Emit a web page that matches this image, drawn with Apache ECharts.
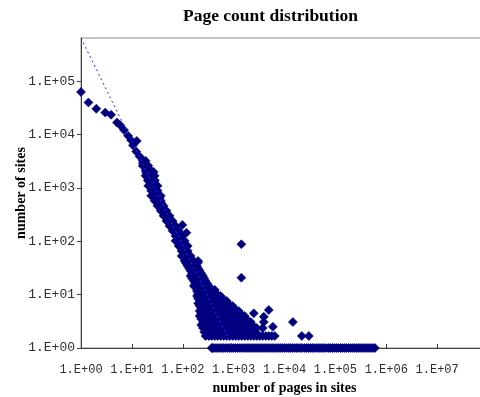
<!DOCTYPE html>
<html>
<head>
<meta charset="utf-8">
<script src="https://cdn.jsdelivr.net/npm/echarts@6/dist/echarts.min.js"></script>
<style>
html,body{margin:0;padding:0;background:#fff;}
#chart{width:480px;height:397px;}
</style>
</head>
<body>
<div id="chart"></div>
<script>
// ---- data ----
const titleText = 'Page count distribution';
const xAxisName = 'number of pages in sites';
const yAxisName = 'number of sites';

// trendline (power fit) end points
const trendX = [1, 977];
const trendY = [646000, 1];

// individual scattered points [pages, sites]
const loosePoints = [
  [1,63000],[1.4,40000],[2,30500],[3,25800],[3.9,23500],[5.1,16800],[5.9,15000],
  [7,12200],[8.4,9500],[9.7,7800],[12.5,7600],[10.5,6300],[12.2,4800],[14.2,3900],
  [16.5,2900],[19.2,1900],[26.8,2000],[20.7,1400],[28,1400],[24,1050],[30.4,920],
  [26,750],[35,640],[32.5,600],[37.8,520],[44,390],[51,290],[64,218],[75,163],
  [98,203],[118,145],[87,114],[94,80],[109,60],[126,42],[200,40],[159,31],[200,22],
  [250,16.4],[425,12.3],[290,11.4],[340,9.2],[575,8.9],[1420,88],[1420,20.8],
  [5900,2.5],[3920,3.86],[3920,3.07],[2490,4.47],[4910,5.16]
];

// page counts on the bottom row (count = 1), a dense solid bar
const singleRowPages = [370,390,410,450,490,540,590,640,700,770,840,920,1000,1100,1200,1320,
  1450,1600,1750,1920,2100,2300,2500,2750,3000,3300,3600,3950,4300,4750,5200,5700,6200,6850,
  7500,8200,9000,9900,10800,11900,13000,14200,15500,17000,18500,20300,22000,24500,27000,
  29500,32000,35000,38000,42000,46000,50000,55000,60000,66000,73000,80000,87000,95000,
  105000,115000,126000,138000,151000,165000,182000,200000,220000,240000,265000,290000,
  320000,350000,385000,420000,460000,500000,550000,600000];

// dense band: site counts (rows) and the page counts seen on each row
const rowSites = [1.68, 2.37, 3.07, 3.98, 4.94, 6.14, 7.62, 9.45, 11.7, 14.6, 18.1,
  22.4, 27.9, 34.5, 42.9, 53.2, 66.1, 82, 102, 126, 157, 194, 241, 300, 372, 462,
  573, 711, 883, 1095, 1360, 1690, 2090, 2600, 3220];
const rowPages = [
  [280,325,370,425,485,555,640,730,840,960,1100,1260,1440,1650,1900,2170,2490,2850,3260,3730,4290,4910,5620,6440,21900,30100],
  [250,280,325,370,425,485,555,640,730,840,960,1100,1260,1440,1650,1900,2170,2490,2850,3730],
  [250,280,325,370,425,485,555,640,730,840,960,1100,1260,1440,1650,1900,2170,14600],
  [215,250,280,325,370,425,485,555,640,730,840,960,1100,1260,1440,1650],
  [215,250,280,325,370,425,485,555,640,730,840,960,1100,1260],
  [215,250,280,325,370,425,485,555,640,730,840,960],
  [215,250,280,325,370,425,485,555,640,730],
  [190,215,250,280,325,370,425,485,555],
  [190,215,250,280,325,370,425],
  [165,190,215,250,280,325],
  [165,190,215,250,280],
  [143,165,190,215,250],
  [143,165,190,215],
  [125,143,165,190],
  [109,125,143,165,200],
  [95,109,125,143],
  [95,109,125],
  [83,95,109,125],
  [72,83,95,109],
  [72,83,95],
  [63,72,83],
  [55,63,72],
  [48,55,63],
  [42,48,55],
  [37,42,48],
  [32,37,42],
  [28,32,37],
  [24,28,32,37],
  [24,28,32],
  [21,24,28,32],
  [21,24,28],
  [18.6,21,24,28],
  [18.6,21,24],
  [16.3,18.6,21],
  [16.3,18.6]
];

// in-between rows of the same dense band (the blob is solid in the picture)
const midSites = [2.0, 2.7, 3.5, 4.44, 5.51, 6.84, 8.49, 10.5, 13.1, 16.2, 20.1, 25.0, 31.0, 38.5];
const midPages = [
  [264,302,346,397,454,521,597,684,783,897,1028,1178,1349,1545,1771,2028,2323,2662],
  [231,264,302,346,397,454,521,597,684,783,897,1028,1178,1349,1545,1771,2028,2323],
  [231,264,302,346,397,454,521,597,684,783,897,1028,1178,1349,1545,1771],
  [231,264,302,346,397,454,521,597,684,783,897,1028,1178,1349],
  [231,264,302,346,397,454,521,597,684,783,897,1028],
  [201,231,264,302,346,397,454,521,597,684,783],
  [201,231,264,302,346,397,454,521,597],
  [201,231,264,302,346,397,454],
  [201,231,264,302,347],
  [175,201,231,264,302],
  [153,175,201,231,264],
  [153,175,201,231],
  [134,153,175,201],
  [117,134,153,175]
];

// axis ranges
const xMin = 1, xMax = 1e8;
const yMin = 1, yMax = 646000;
const yTickValues = [1, 10, 100, 1000, 10000, 100000];

// ---- build ----
const scatterData = loosePoints.slice();
singleRowPages.forEach(p => scatterData.push([p, 1]));
rowSites.forEach((s, i) => rowPages[i].forEach(p => scatterData.push([p, s])));
midSites.forEach((s, i) => midPages[i].forEach(p => scatterData.push([p, s])));
const trendData = trendX.map((x, i) => [x, trendY[i]]);

function expLabel(v, hideAbove) {
  const l = Math.log10(v);
  const r = Math.round(l);
  if (Math.abs(l - r) > 1e-6 || r > hideAbove) return '';
  return '1.E+' + String(r).padStart(2, '0');
}

const chart = echarts.init(document.getElementById('chart'), null, {renderer: 'canvas'});
chart.setOption({
  animation: false,
  backgroundColor: '#fff',
  title: {
    text: titleText,
    left: 178, top: 2,
    textStyle: {fontFamily: 'Liberation Serif', fontWeight: 'bold', fontSize: 17.5, color: '#000'}
  },
  grid: {
    left: 81, top: 38, bottom: 49, right: -8,
    outerBoundsMode: 'none',
    containLabel: false,
    show: true, borderColor: '#8a8a8a', borderWidth: 1, backgroundColor: 'transparent'
  },
  xAxis: {
    type: 'log', logBase: 10, min: xMin, max: xMax,
    name: xAxisName, nameLocation: 'middle', nameGap: 33, nameMoveOverlap: false,
    nameTextStyle: {fontFamily: 'Liberation Serif', fontWeight: 'bold', fontSize: 14, color: '#000'},
    axisLine: {lineStyle: {color: '#404040', width: 1}},
    axisTick: {inside: true, length: 4, lineStyle: {color: '#404040'}},
    axisLabel: {
      margin: 16, fontFamily: 'Liberation Mono', fontSize: 12, color: '#303030',
      formatter: v => expLabel(v, 7)
    },
    splitLine: {show: false}
  },
  yAxis: {
    type: 'log', logBase: 10, min: yMin, max: yMax,
    name: yAxisName, nameLocation: 'middle', nameGap: 53, nameRotate: 90, nameMoveOverlap: false,
    nameTextStyle: {fontFamily: 'Liberation Serif', fontWeight: 'bold', fontSize: 14, color: '#000'},
    axisLine: {lineStyle: {color: '#404040', width: 1}},
    axisTick: {inside: false, length: 4, lineStyle: {color: '#404040'}, customValues: yTickValues},
    axisLabel: {
      margin: 6, fontFamily: 'Liberation Mono', fontSize: 13, color: '#303030',
      customValues: yTickValues,
      formatter: v => expLabel(v, 5)
    },
    splitLine: {show: false}
  },
  series: [
    {
      type: 'scatter',
      data: scatterData,
      symbol: 'diamond',
      symbolSize: 9,
      large: false,
      itemStyle: {color: '#000080', opacity: 1, borderWidth: 0.6, borderColor: '#000080'},
      emphasis: {disabled: true},
      z: 2
    },
    {
      type: 'line',
      data: trendData,
      symbol: 'none',
      lineStyle: {color: '#2a2aff', width: 1, type: [2, 3]},
      emphasis: {disabled: true},
      z: 3
    }
  ]
});
</script>
</body>
</html>
